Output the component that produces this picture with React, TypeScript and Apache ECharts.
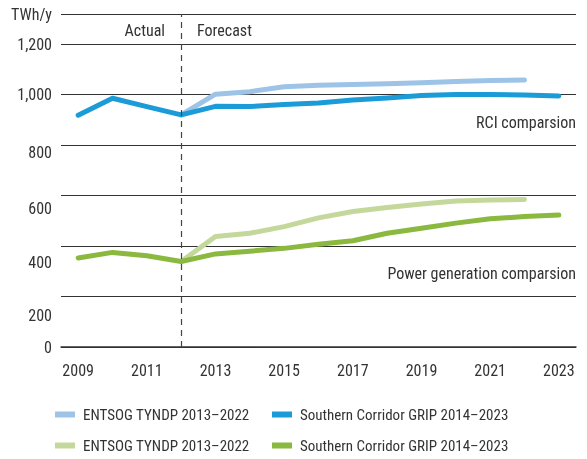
import React, { useEffect, useRef } from "react";
import * as echarts from "echarts";

const years = ["2009", "2010", "2011", "2012", "2013", "2014", "2015", "2016", "2017", "2018", "2019", "2020", "2021", "2022", "2023"];
const entsogRci = [null, null, null, 920, 1002, 1012, 1032, 1038, 1041, 1044, 1047, 1052, 1056, 1058, null];
const gripRci = [919, 986, 953, 920, 954, 953, 961, 967, 979, 987, 997, 1001, 1001, 999, 995];
const entsogPower = [null, null, null, 339, 438, 451, 477, 512, 537, 553, 567, 579, 583, 585, null];
const gripPower = [353, 375, 362, 339, 369, 380, 391, 407, 421, 451, 471, 491, 508, 517, 523];

const seriesNames = [
  "ENTSOG TYNDP 2013–2022|rci",
  "Southern Corridor GRIP 2014–2023|rci",
  "ENTSOG TYNDP 2013–2022|power",
  "Southern Corridor GRIP 2014–2023|power",
];
const colors = ["#9dc4e7", "#1b9cd8", "#c5d89c", "#8bb83e"];
const yTop = 1320;
const yUnit = "TWh/y";
const annotations = ["Actual", "Forecast", "RCI comparsion", "Power generation comparsion"];

const FONT = "'Roboto Condensed', 'DejaVu Sans Condensed', sans-serif";
const FS = 16;
const LFS = 15;
const TXT = "#333";

export default function App() {
  const ref = useRef<HTMLDivElement>(null);
  useEffect(() => {
    if (!ref.current) return;
    const chart = echarts.init(ref.current, undefined, { renderer: "svg" });
    const labelRich = (shift: number) => ({
      fontFamily: FONT,
      fontSize: FS,
      color: TXT,
      padding: [shift * 2, 0, 0, 0],
    });
    const shifts: Record<number, string> = { 800: "s7", 600: "s13", 400: "s16", 200: "s19" };
    const datas = [entsogRci, gripRci, entsogPower, gripPower];
    const legendPos = [
      { left: 55, top: 407 },
      { left: 272, top: 407 },
      { left: 55, top: 438 },
      { left: 272, top: 438 },
    ];
    chart.setOption({
      animation: false,
      grid: { left: 61, right: 11, top: 14, bottom: 112 },
      xAxis: {
        type: "category",
        data: years,
        boundaryGap: true,
        axisLine: { lineStyle: { color: "#333", width: 1.5 } },
        axisTick: { interval: 0, length: 6, lineStyle: { color: "#333", width: 1.3 } },
        axisLabel: { interval: 1, margin: 15, fontFamily: FONT, fontSize: FS, color: TXT },
        splitLine: { show: false },
      },
      yAxis: {
        type: "value",
        min: 0,
        max: yTop,
        interval: 200,
        axisLine: { show: false },
        axisTick: { show: false },
        splitLine: { lineStyle: { color: "#333", width: 1 } },
        axisLabel: {
          margin: 9,
          fontFamily: FONT,
          fontSize: FS,
          color: TXT,
          formatter: (v: number) => {
            if (v === yTop) return yUnit;
            const s = v.toLocaleString("en-US");
            if (shifts[v]) return `{${shifts[v]}|${s}}`;
            return s;
          },
          rich: {
            s7: labelRich(7),
            s13: labelRich(13),
            s16: labelRich(16),
            s19: labelRich(19),
          },
        },
      },
      legend: seriesNames.map((n, i) => ({
        data: [n],
        left: legendPos[i].left,
        top: legendPos[i].top,
        icon: "rect",
        itemWidth: 20,
        itemHeight: 6,
        padding: 0,
        formatter: (name: string) => name.split("|")[0],
        textStyle: { fontFamily: FONT, fontSize: LFS, color: TXT, padding: [0, 0, 0, 3] },
        selectedMode: false,
      })),
      graphic: [
        { type: "text", x: 165, y: 30, style: { text: annotations[0], align: "right", verticalAlign: "middle", font: `${FS}px ${FONT}`, fill: TXT } },
        { type: "text", x: 197, y: 30, style: { text: annotations[1], align: "left", verticalAlign: "middle", font: `${FS}px ${FONT}`, fill: TXT } },
        { type: "text", x: 576, y: 122, style: { text: annotations[2], align: "right", verticalAlign: "middle", font: `${FS}px ${FONT}`, fill: TXT } },
        { type: "text", x: 576, y: 273, style: { text: annotations[3], align: "right", verticalAlign: "middle", font: `${FS}px ${FONT}`, fill: TXT } },
      ],
      series: seriesNames.map((n, i) => ({
        name: n,
        type: "line",
        data: datas[i],
        symbol: "none",
        showSymbol: false,
        connectNulls: false,
        color: colors[i],
        lineStyle: { color: colors[i], width: 5, cap: "round", join: "round" },
        z: i % 2 === 0 ? 2 : 3,
        ...(i === 1
          ? {
              markLine: {
                silent: true,
                symbol: "none",
                label: { show: false },
                lineStyle: { color: "#444", width: 1.2, type: [6, 5] },
                data: [{ xAxis: "2012" }],
              },
            }
          : {}),
      })),
    });
    return () => chart.dispose();
  }, []);
  return <div ref={ref} style={{ position: "fixed", left: 0, top: 0, width: 587, height: 459 }} />;
}
